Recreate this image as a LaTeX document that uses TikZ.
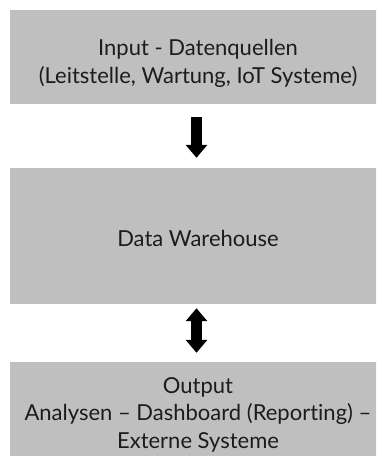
\documentclass[tikz,border=0pt]{standalone}
\usepackage{fontspec}
\setmainfont[Ligatures=NoCommon]{Lato}
\usetikzlibrary{arrows.meta}
\definecolor{boxgray}{HTML}{BFBFBF}
\definecolor{ink}{HTML}{1C1C1C}
\tikzset{bigtip/.tip={Triangle[width=21pt,length=13pt]}}
\begin{document}
\begin{tikzpicture}[x=1pt,y=-1pt,
  box/.style={fill=boxgray,draw=none,inner sep=0pt,minimum width=376pt},
  lbl/.style={text=ink,align=center,inner sep=0pt,font=\fontsize{22}{27.5}\selectfont},
  arr/.style={draw=black,line width=11pt}]
\useasboundingbox (0,0) rectangle (376,456);
\clip (0,0) rectangle (376,456);
\node[box,minimum height=94pt] (b1) at (198,57) {};
\node[box,minimum height=136pt] (b2) at (198,236) {};
\node[box,minimum height=110pt] (b3) at (198,417) {};
\node[lbl,anchor=base] (t1) at (198,83) {Input - Datenquellen\\(Leitstelle, Wartung, IoT Systeme)};
\node[lbl,anchor=base] (t2) at (198,246) {Data Warehouse};
\node[lbl,anchor=base] (t3) at (198,448) {Output\\Analysen – Dashboard (Reporting) –\\Externe Systeme};
\draw[arr,-bigtip,shorten <=13pt,shorten >=10pt] ([xshift=-1.5pt]b1.south) -- ([xshift=-1.5pt]b2.north);
\draw[arr,bigtip-bigtip,shorten <=4pt,shorten >=9pt] ([xshift=-1.5pt]b2.south) -- ([xshift=-1.5pt]b3.north);
\end{tikzpicture}
\end{document}
